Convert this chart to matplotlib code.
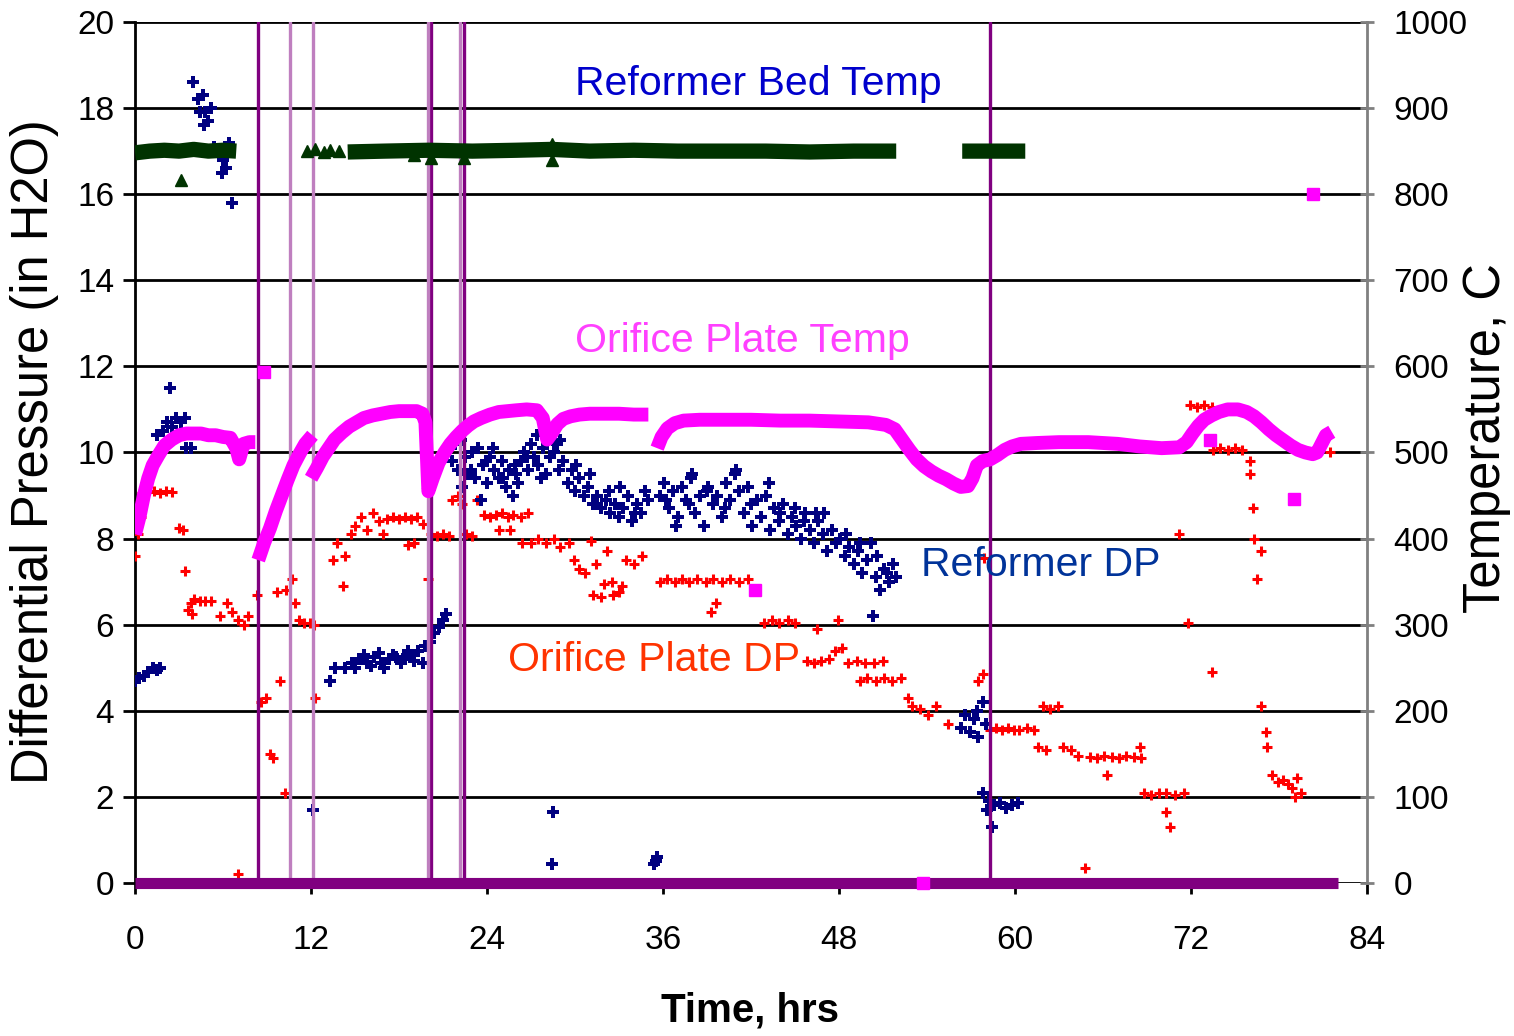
import numpy as np
import matplotlib
matplotlib.use("Agg")
import matplotlib.pyplot as plt

plt.rcParams['font.family'] = ['Liberation Sans', 'DejaVu Sans']

nan = float('nan')

# ---------------- data ----------------
x_ticks = [0, 12, 24, 36, 48, 60, 72, 84]
dp_ticks = [0, 2, 4, 6, 8, 10, 12, 14, 16, 18, 20]
temp_ticks = [0, 100, 200, 300, 400, 500, 600, 700, 800, 900, 1000]

# event markers (vertical lines), hrs
events_major = [8.4, 20.2, 22.4, 58.3]
events_minor = [10.55, 12.15, 19.95, 22.15]
event_base_x = [0.0, 82.0]
event_base_y = [0.0, 0.0]

# Reformer DP (in H2O)
ref_dp_x = [0.0, 0.3, 0.6, 0.9, 1.2, 1.5, 1.7,
            1.5, 1.9, 2.2, 2.5, 2.4, 2.8, 3.1, 3.4, 3.5, 3.8,
            3.95, 4.3, 4.6, 4.4, 4.8, 5.0, 4.7, 5.2,
            5.4, 5.7, 6.0, 6.2, 5.9, 6.4, 6.6,
            12.1, 13.3, 13.6, 14.3, 14.8, 15.3, 15.8, 16.3, 16.8, 17.3, 17.8, 18.3, 18.8,
            19.3, 19.6, 19.8, 20.1, 20.4, 20.7, 21.0, 21.2,
            15.0, 15.6, 16.1, 16.6, 17.0, 17.6, 18.1, 18.6, 19.0,
            21.6, 21.8, 22.0, 22.2, 22.5, 22.7, 23.0, 23.2, 23.4, 23.7, 24.0, 24.2, 24.5, 24.8,
            25.0, 25.3, 25.5, 25.8, 26.0, 26.3, 26.5, 26.8, 27.0, 27.2, 27.5, 27.8, 28.0, 28.3,
            28.6, 28.9, 29.2, 29.5, 29.8, 30.0, 30.3, 30.6, 30.9, 31.2, 31.5, 31.8, 32.1, 32.4,
            32.7, 33.0, 33.3, 33.6, 33.9, 34.2, 34.5, 34.8, 35.0, 35.8, 36.1, 36.4, 36.7, 37.0,
            37.3, 37.6, 37.9, 38.2, 38.5, 38.8, 39.1, 39.4, 39.7, 40.0, 40.3, 40.6, 40.9, 41.2,
            41.5, 41.8, 42.1, 42.4, 42.7, 43.0, 43.3, 43.6, 43.9, 44.2, 44.5, 44.8, 45.1, 45.4,
            45.7, 46.0, 46.3, 46.6, 46.9, 47.2, 47.5, 47.8, 48.1, 48.4, 48.7, 49.0, 49.3, 49.6,
            49.9, 50.2, 50.5, 50.8, 51.1, 51.4, 51.7, 50.3, 51.9,
            22.3, 23.6, 27.4, 24.4, 26.1, 29.0, 31.0, 36.9, 38.0, 41.0, 43.2, 45.0, 47.0,
            22.9, 23.9, 25.1, 25.9, 26.7, 27.7, 28.8, 30.1, 32.3, 33.1, 34.1, 36.2, 37.8,
            39.0, 40.2, 42.0, 44.0, 45.6, 46.4, 48.5, 49.4, 50.6, 51.3,
            28.4, 28.5, 35.4, 35.6, 35.5,
            56.3, 56.6, 56.9, 57.2, 57.5, 57.8, 58.0, 57.4,
            57.8, 58.2, 58.6, 59.0, 59.4, 59.8, 60.2, 58.4, 58.1]
ref_dp_y = [4.7, 4.75, 4.8, 4.9, 5.0, 4.95, 5.0,
            10.4, 10.5, 10.7, 10.6, 11.5, 10.8, 10.7, 10.8, 10.1, 10.1,
            18.6, 18.2, 18.3, 17.9, 17.9, 17.7, 17.6, 18.0,
            17.1, 17.0, 16.8, 16.6, 16.5, 17.2, 15.8,
            1.7, 4.7, 5.0, 5.0, 5.1, 5.2, 5.1, 5.25, 5.1, 5.2, 5.25, 5.2, 5.3,
            5.4, 5.1, 5.5, 5.6, 5.8, 5.95, 6.1, 6.25,
            5.0, 5.3, 5.05, 5.35, 5.0, 5.3, 5.1, 5.4, 5.15,
            9.8, 10.2, 9.6, 10.3, 9.9, 9.5, 10.0, 9.4, 10.1, 9.7, 9.3, 9.9, 9.6, 9.4,
            9.8, 9.2, 9.6, 9.0, 9.5, 9.8, 10.0, 9.6, 10.2, 9.9, 9.7, 10.1, 9.5, 9.9,
            10.0, 9.6, 9.8, 9.3, 9.6, 9.1, 9.4, 9.0, 9.2, 8.8, 9.0, 8.7, 8.9, 8.6,
            8.8, 8.5, 8.7, 9.0, 8.4, 8.8, 8.6, 9.1, 8.9, 9.0, 9.3, 8.7, 9.1, 8.5,
            9.2, 8.9, 9.4, 8.6, 9.0, 8.3, 9.2, 8.8, 9.0, 8.5, 9.3, 8.9, 9.5, 9.1,
            8.6, 9.2, 8.3, 8.9, 8.5, 9.0, 8.2, 8.7, 8.4, 8.8, 8.1, 8.5, 8.3, 8.0,
            8.6, 8.2, 7.9, 8.4, 8.1, 7.7, 8.2, 7.9, 8.0, 7.6, 7.8, 7.4, 7.7, 7.2,
            7.5, 7.9, 7.1, 6.8, 7.3, 7.0, 7.4, 6.2, 7.1,
            9.2, 8.9, 10.4, 10.1, 9.3, 10.3, 9.5, 8.3, 9.5, 9.6, 9.3, 8.7, 8.6,
            9.6, 9.8, 9.4, 9.7, 9.9, 9.4, 10.2, 9.7, 9.1, 9.2, 8.6, 8.9, 8.8,
            9.1, 8.7, 8.8, 8.6, 8.4, 8.6, 8.1, 7.9, 7.6, 7.2,
            0.45, 1.65, 0.45, 0.6, 0.5,
            3.6, 3.9, 3.5, 3.8, 3.4, 4.2, 3.7, 4.0,
            2.1, 1.9, 1.8, 1.85, 1.75, 1.8, 1.85, 1.3, 1.7]

# Orifice Plate DP (in H2O)
orif_dp_x = [0.0, 0.2, 0.4, 0.5, 0.9, 1.3, 1.7, 2.1, 2.5, 3.0, 3.3, 3.4, 3.6, 3.8, 4.0, 4.4,
             4.8, 5.2, 3.9, 5.8, 6.3, 6.6, 7.0, 7.4, 7.7, 7.0,
             8.3, 8.6, 8.9, 9.2, 9.4, 9.7, 9.9, 10.2, 10.3, 10.7, 10.9, 11.2, 11.5, 11.9,
             12.2, 12.3,
             13.5, 13.8, 14.2, 14.3, 14.7, 15.0, 15.4, 15.8, 16.2, 16.6, 16.9, 17.2, 17.6,
             18.0, 18.4, 18.8, 19.2, 18.6, 19.0, 19.6, 20.0, 20.2, 20.6, 21.0, 21.4, 21.6,
             22.0, 22.3, 22.6, 23.0, 23.3, 23.8, 24.2, 24.6, 25.0, 25.4, 25.8, 26.3, 26.8,
             24.8, 25.6, 26.4, 27.0, 27.5, 28.0, 28.6, 29.0, 29.6, 31.1, 29.9, 30.3, 30.7,
             31.4, 32.2, 33.5, 34.0, 34.6, 32.0, 32.5, 33.2, 31.2, 31.8, 32.6, 33.0,
             35.8, 36.3, 36.8, 37.3, 37.8, 38.3, 38.9, 39.4, 40.0, 40.6, 41.2, 41.8,
             39.3, 39.6, 42.9, 43.4, 43.9, 44.5, 45.0, 46.5, 47.9,
             45.8, 46.3, 46.8, 47.3, 47.7, 48.2, 48.6, 49.2, 49.8, 50.4, 51.0,
             49.4, 49.9, 50.5, 51.1, 51.6, 52.2, 52.7, 53.0, 53.5, 54.1, 54.6, 55.4,
             57.5, 57.8, 57.9,
             58.3, 58.7, 59.1, 59.5, 59.9, 60.3, 60.8, 61.3, 61.9, 62.4, 62.9, 61.6, 62.1,
             63.3, 63.8, 64.3, 65.1, 65.6, 66.1, 66.6, 67.1, 67.6, 68.1, 68.6, 66.3, 68.5,
             68.8, 69.3, 69.8, 70.3, 70.9, 71.5, 70.3, 70.6, 64.8, 71.8, 71.2,
             71.9, 72.4, 72.9, 73.4, 73.5, 74.0, 74.5, 75.0, 75.5, 76.0, 76.0, 76.2, 76.3,
             76.8, 76.5, 73.4, 76.8, 77.1, 77.2, 77.5, 77.9, 78.3, 78.6, 78.9, 79.2, 79.5,
             79.1, 81.5]
orif_dp_y = [7.6, 8.1, 8.5, 9.05, 9.08, 9.1, 9.05, 9.1, 9.08, 8.25, 8.2, 7.25, 6.35, 6.5,
             6.6, 6.55, 6.55, 6.55, 6.25, 6.2, 6.5, 6.3, 6.1, 6.0, 6.2, 0.2,
             6.7, 4.2, 4.3, 3.0, 2.9, 6.75, 4.7, 2.1, 6.8, 7.05, 6.5, 6.1, 6.05, 6.05,
             6.0, 4.3,
             7.5, 7.9, 6.9, 7.6, 8.1, 8.3, 8.5, 8.2, 8.6, 8.4, 8.1, 8.45, 8.5,
             8.45, 8.5, 8.45, 8.5, 7.85, 7.9, 8.35, 7.05, 8.1, 8.05, 8.1, 8.05, 8.9,
             9.0, 8.8, 8.1, 8.05, 8.9, 8.55, 8.5, 8.55, 8.6, 8.5, 8.55, 8.5, 8.6,
             8.2, 8.2, 7.9, 7.9, 8.0, 7.9, 8.0, 7.8, 7.9, 7.95, 7.5, 7.3, 7.2,
             7.4, 7.7, 7.5, 7.4, 7.6, 6.95, 7.0, 6.9, 6.7, 6.65, 6.7, 6.75,
             7.0, 7.05, 7.0, 7.05, 7.0, 7.05, 7.0, 7.05, 7.0, 7.05, 7.0, 7.05,
             6.3, 6.5, 6.05, 6.1, 6.05, 6.1, 6.05, 5.9, 6.1,
             5.15, 5.1, 5.15, 5.2, 5.4, 5.45, 5.1, 5.15, 5.1, 5.1, 5.15,
             4.7, 4.75, 4.7, 4.75, 4.7, 4.75, 4.3, 4.1, 4.05, 3.9, 4.1, 3.7,
             4.7, 4.85, 7.55,
             3.55, 3.6, 3.55, 3.6, 3.55, 3.55, 3.6, 3.55, 4.1, 4.05, 4.1, 3.15, 3.1,
             3.15, 3.1, 2.95, 2.93, 2.9, 2.95, 2.93, 2.9, 2.95, 2.93, 2.9, 2.5, 3.15,
             2.1, 2.05, 2.1, 2.1, 2.05, 2.1, 1.65, 1.3, 0.35, 6.05, 8.1,
             11.1, 11.05, 11.1, 11.05, 10.05, 10.1, 10.05, 10.1, 10.05, 9.5, 9.8, 8.7, 8.0,
             7.7, 7.05, 4.9, 4.1, 3.5, 3.15, 2.5, 2.35, 2.4, 2.3, 2.2, 2.45, 2.1,
             2.0, 10.0]

# Reformer Bed Temp (C)
bed_x = [0.0, 1.0, 2.0, 3.0, 4.0, 5.0, 6.0, 6.9, nan,
         14.5, 17.0, 20.0, 23.0, 26.0, 28.4, 31.0, 34.0, 37.0, 40.0, 43.0, 46.0, 49.0, 51.9, nan,
         56.4, 58.5, 60.7]
bed_t = [848, 850, 851, 850, 852, 850, 851, 850, nan,
         849, 850, 851, 850, 851, 852, 850, 851, 850, 850, 850, 849, 850, 850, nan,
         850, 850, 850]
bed_pts_x = [3.1, 11.7, 12.3, 12.9, 13.3, 13.9, 19.0, 20.2, 22.4, 28.4, 28.4]
bed_pts_t = [816, 850, 852, 849, 851, 850, 846, 842, 842, 858, 840]

# Orifice Plate Temp (C)
orif_t_x = [0.0, 0.3, 0.6, 0.9, 1.2, 1.6, 2.0, 2.5, 3.0, 3.5, 4.0, 4.5, 5.0, 5.5, 6.0, 6.5,
            6.9, 7.1, 7.4, 7.8, 8.2, nan,
            8.4, 8.8, 9.2, 9.6, 10.0, 10.4, 10.8, 11.2, 11.6, 12.1, nan,
            12.0, 12.4, 12.8, 13.2, 13.6, 14.1, 14.6, 15.1, 15.6, 16.2, 16.8, 17.4, 18.0,
            18.6, 19.2, 19.6, 19.8, 20.0, 20.3, 20.7, 21.1, 21.5, 21.9, 22.3, 22.7, 23.1,
            23.6, 24.2, 24.8, 25.4, 26.0, 26.7, 27.4, 27.8, 28.1, 28.4, 28.8, 29.2, 29.7,
            30.3, 31.0, 32.0, 33.0, 34.0, 35.0, nan,
            35.6, 35.9, 36.3, 36.8, 37.4, 38.5, 40.0, 42.0, 44.0, 46.0, 48.0, 50.0, 51.2,
            51.8, 52.3, 52.8, 53.3, 53.8, 54.3, 54.8, 55.3, 55.8, 56.3, 56.8, 57.1, 57.4,
            57.8, 58.3, 58.8, 59.3, 59.8, 60.4, 61.5, 63.0, 65.0, 67.0, 68.5, 70.0, 71.2,
            71.7, 72.1, 72.5, 72.9, 73.4, 73.9, 74.5, 75.2, 75.8, 76.3, 76.8, 77.3, 77.8,
            78.3, 78.8, 79.3, 79.8, 80.3, 80.6, 80.9, 81.2, 81.6]
orif_t = [405, 425, 450, 470, 485, 497, 508, 515, 520, 522, 522, 522, 520, 520, 518, 517,
          505, 492, 510, 512, 512, nan,
          375, 395, 412, 432, 450, 468, 485, 498, 510, 520, nan,
          470, 482, 495, 505, 515, 523, 530, 535, 540, 543, 545, 547, 548,
          548, 548, 545, 535, 455, 470, 488, 500, 510, 518, 525, 531, 536,
          540, 544, 547, 548, 549, 550, 549, 540, 515, 522, 533, 539, 542,
          544, 545, 545, 545, 544, 544, nan,
          505, 518, 528, 534, 537, 538, 538, 538, 537, 537, 536, 535, 532,
          527, 515, 503, 492, 484, 478, 473, 469, 464, 460, 461, 470, 485,
          490, 492, 497, 503, 507, 510, 511, 512, 512, 510, 507, 505, 506,
          512, 522, 531, 538, 543, 547, 550, 550, 547, 542, 535, 527, 520,
          514, 508, 503, 500, 498, 500, 510, 520, 524]
orif_t_pts_x = [8.8, 42.3, 53.7, 73.3, 79.0, 80.3]
orif_t_pts = [593, 340, 0, 514, 446, 800]

# ---------------- figure ----------------
fig = plt.figure(figsize=(15.14, 10.36), dpi=100)
ax = fig.add_axes([0.0892, 0.1477, 0.8137, 0.8311])
ax2 = ax.twinx()

ax.set_xlim(0, 84)
ax.set_ylim(0, 20)
ax2.set_ylim(0, 1000)

ax.set_yticks(dp_ticks)
ax.set_xticks(x_ticks)
ax2.set_yticks(temp_ticks)
ax.set_yticklabels([str(v) for v in dp_ticks])
ax2.set_yticklabels([str(v) for v in temp_ticks])
ax.set_xticklabels([str(v) for v in x_ticks])

for t in dp_ticks:
    ax.axhline(t, color='black', lw=2.0, zorder=1)

ax.plot(orif_dp_x, orif_dp_y, linestyle='none', marker='+', ms=6.5, mew=2.2,
        color='#ff0000', zorder=3)
ax.plot(ref_dp_x, ref_dp_y, linestyle='none', marker='P', ms=9, mew=0,
        color='#000080', zorder=4)

for e in events_major:
    ax.axvline(e, color='#800080', lw=2.4, zorder=5)
for e in events_minor:
    ax.axvline(e, color='#bf7fbf', lw=2.4, zorder=5)
ax.plot(event_base_x, event_base_y, color='#800080', lw=8, solid_capstyle='butt',
        clip_on=False, zorder=6)

ax2.plot(bed_x, bed_t, color='#003300', lw=11, solid_capstyle='butt', zorder=3)
ax2.plot(bed_pts_x, bed_pts_t, linestyle='none', marker='^', ms=8, color='#003300', zorder=3)
ax2.plot(orif_t_x, orif_t, color='#ff00ff', lw=10, solid_capstyle='butt', zorder=4)
ax2.plot(orif_t_pts_x, orif_t_pts, linestyle='none', marker='s', ms=8, color='#ff00ff',
         zorder=4, clip_on=False)

# spines
for s in ['top', 'bottom']:
    ax.spines[s].set_visible(False)
    ax2.spines[s].set_visible(False)
ax.spines['left'].set_color('black')
ax.spines['left'].set_linewidth(2)
ax.spines['right'].set_visible(False)
ax2.spines['left'].set_visible(False)
ax2.spines['right'].set_color('#808080')
ax2.spines['right'].set_linewidth(2)

tick_font = 24
ax.tick_params(axis='y', direction='out', length=9, width=2, pad=6, labelsize=tick_font)
ax.tick_params(axis='x', direction='out', length=8, width=2, colors='black', pad=22,
               labelsize=tick_font)
ax2.tick_params(axis='y', direction='inout', length=10, width=2, color='#808080', pad=14,
                labelsize=tick_font, labelcolor='black')

# series labels
lab_font = 29.5
ax.text(30.0, 18.56, 'Reformer Bed Temp', color='#0000cc', fontsize=lab_font,
        ha='left', va='center', zorder=7)
ax.text(30.0, 12.6, 'Orifice Plate Temp', color='#ff40ff', fontsize=lab_font,
        ha='left', va='center', zorder=7)
ax.text(53.6, 7.39, 'Reformer DP', color='#003399', fontsize=lab_font,
        ha='left', va='center', zorder=7)
ax.text(25.4, 5.18, 'Orifice Plate DP', color='#ff3300', fontsize=lab_font,
        ha='left', va='center', zorder=7)

fig.text(0.4954, 0.025, 'Time, hrs', fontsize=29, fontweight='bold', ha='center', va='center')
fig.text(0.0231, 0.5637, 'Differential Pressure (in H2O)', fontsize=36.5, rotation=90,
         ha='center', va='center')
fig.text(0.982, 0.5772, 'Temperature, C', fontsize=36.5, rotation=90,
         ha='center', va='center')

fig.savefig('out.png', dpi=100, facecolor='white')
